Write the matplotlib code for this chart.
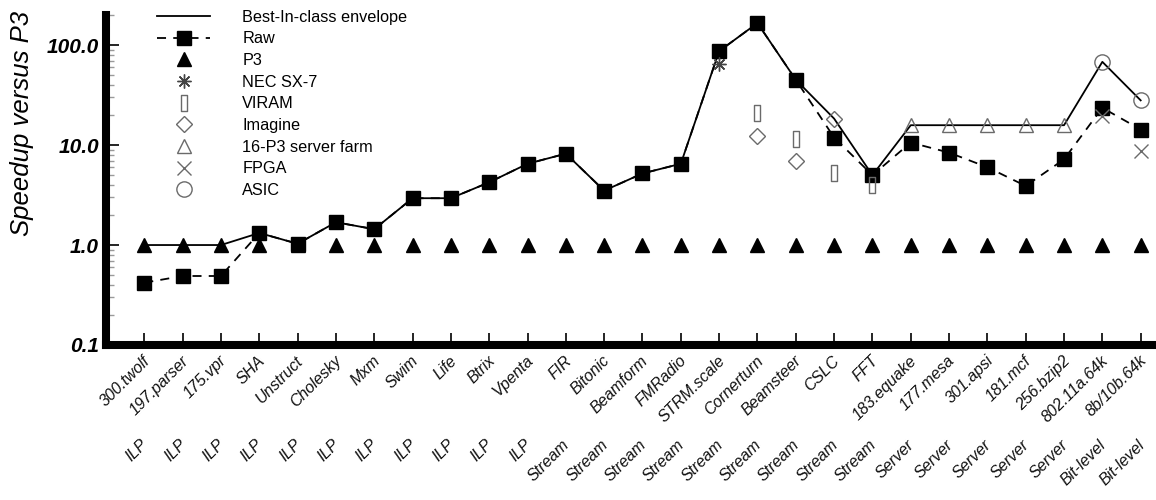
import numpy as np
import matplotlib
matplotlib.use("Agg")
import matplotlib.pyplot as plt
from matplotlib.path import Path
from matplotlib.ticker import LogLocator, NullFormatter, FixedLocator, FixedFormatter

plt.rcParams["font.family"] = ["Liberation Sans", "DejaVu Sans"]

names = ["300.twolf", "197.parser", "175.vpr", "SHA", "Unstruct", "Cholesky", "Mxm",
         "Swim", "Life", "Btrix", "Vpenta", "FIR", "Bitonic", "Beamform", "FMRadio",
         "STRM.scale", "Cornerturn", "Beamsteer", "CSLC", "FFT", "183.equake",
         "177.mesa", "301.apsi", "181.mcf", "256.bzip2", "802.11a.64k", "8b/10b.64k"]
groups = ["ILP"] * 11 + ["Stream"] * 9 + ["Server"] * 5 + ["Bit-level"] * 2

raw = [0.42, 0.49, 0.49, 1.32, 1.03, 1.69, 1.44, 2.94, 2.94, 4.24, 6.5, 8.2, 3.5,
       5.2, 6.5, 87, 166, 45, 11.9, 5.0, 10.6, 8.4, 6.0, 3.9, 7.2, 23.6, 14.3]
p3 = [1.0, 1.0, 1.0, 1.0, 1.0, 1.0, 1.0, 1.0, 1.0, 1.0, 1.0, 1.0, 1.0, 1.0,
      1.0, 1.0, 1.0, 1.0, 1.0, 1.0, 1.0, 1.0, 1.0, 1.0, 1.0, 1.0, 1.0]

nec_names = ["STRM.scale"]
nec_vals = [65]
viram_names = ["Cornerturn", "Beamsteer", "CSLC", "FFT"]
viram_vals = [21, 11.6, 5.3, 4.0]
imagine_names = ["Cornerturn", "Beamsteer", "CSLC"]
imagine_vals = [12.4, 7.0, 18.4]
farm_names = ["183.equake", "177.mesa", "301.apsi", "181.mcf", "256.bzip2"]
farm_vals = [15.8, 15.8, 15.8, 15.8, 15.8]
fpga_names = ["802.11a.64k", "8b/10b.64k"]
fpga_vals = [19.6, 8.8]
asic_names = ["802.11a.64k", "8b/10b.64k"]
asic_vals = [68, 28]

x = np.arange(len(names))


def pos(lst):
    return [names.index(n) for n in lst]


# best-in-class envelope = max over every machine for each benchmark
env = np.maximum(np.array(raw), np.array(p3))
for nm, vals in [(nec_names, nec_vals), (viram_names, viram_vals),
                 (imagine_names, imagine_vals), (farm_names, farm_vals),
                 (fpga_names, fpga_vals), (asic_names, asic_vals)]:
    for i, v in zip(pos(nm), vals):
        env[i] = max(env[i], v)

gray = "#6a6a6a"
rect = Path([(-0.38, -1), (0.38, -1), (0.38, 1), (-0.38, 1), (-0.38, -1)],
            [Path.MOVETO, Path.LINETO, Path.LINETO, Path.LINETO, Path.CLOSEPOLY])

fig = plt.figure(figsize=(11.56, 5.0), dpi=100)
ax = fig.add_axes([0.0917, 0.31, 0.9083, 0.66])

ax.plot(x, env, color="black", lw=1.3, label="Best-In-class envelope", zorder=3)
ax.plot(x, raw, color="black", lw=1.3, ls=(0, (5, 4)), marker="s", ms=10.5,
        label="Raw", zorder=4)
ax.plot(x, p3, ls="none", marker="^", ms=9.5, color="black", label="P3", zorder=4)
ax.plot(pos(nec_names), nec_vals, ls="none", marker=(8, 2, 0), ms=10,
        color="#444444", mew=1.0, label="NEC SX-7", zorder=5)
ax.plot(pos(viram_names), viram_vals, ls="none", marker=rect, ms=11,
        mfc="none", mec=gray, mew=1.0, label="VIRAM", zorder=5)
ax.plot(pos(imagine_names), imagine_vals, ls="none", marker="D", ms=8,
        mfc="none", mec=gray, mew=1.0, label="Imagine", zorder=5)
ax.plot(pos(farm_names), farm_vals, ls="none", marker="^", ms=10,
        mfc="none", mec=gray, mew=1.0, label="16-P3 server farm", zorder=5)
ax.plot(pos(fpga_names), fpga_vals, ls="none", marker="x", ms=10,
        color=gray, mew=1.0, label="FPGA", zorder=5)
ax.plot(pos(asic_names), asic_vals, ls="none", marker="o", ms=11,
        mfc="none", mec=gray, mew=1.0, label="ASIC", zorder=5)

ax.set_yscale("log")
ax.set_ylim(0.1, 200)
ax.set_xlim(-1, 26.4)

ax.yaxis.set_major_locator(FixedLocator([0.1, 1, 10, 100]))
ax.yaxis.set_major_formatter(FixedFormatter(["0.1", "1.0", "10.0", "100.0"]))
ax.yaxis.set_minor_locator(LogLocator(base=10, subs=np.arange(2, 10)))
ax.yaxis.set_minor_formatter(NullFormatter())
ax.tick_params(axis="y", which="major", direction="in", length=9, width=1.2,
               pad=5, labelsize=15)
ax.tick_params(axis="y", which="minor", direction="in", length=6, width=1.0,
               color="#9a9a9a")
for lab in ax.get_yticklabels():
    lab.set_fontstyle("italic")
    lab.set_fontweight("bold")

ax.set_xticks(x)
ax.set_xticklabels([])
ax.tick_params(axis="x", which="major", direction="in", length=9, width=1.2)

for s in ["top", "right"]:
    ax.spines[s].set_visible(False)
for s in ["left", "bottom"]:
    ax.spines[s].set_linewidth(5.8)

fig.text(22 / 1156, 1 - 123 / 500, "Speedup versus P3", rotation=90, ha="center",
         va="center", fontsize=18.5, fontstyle="italic")

for i in x:
    ax.annotate(names[i], xy=(i, 0), xycoords=("data", "axes fraction"),
                xytext=(-2, -8), textcoords="offset pixels", rotation=45,
                rotation_mode="anchor", ha="right", va="top", fontsize=11.5,
                fontstyle="italic", color="#111111")
    ax.annotate(groups[i], xy=(i, 0), xycoords=("data", "axes fraction"),
                xytext=(-4, -92), textcoords="offset pixels", rotation=45,
                rotation_mode="anchor", ha="right", va="top", fontsize=11.5,
                fontstyle="italic", color="#111111")

ax.legend(loc="upper left", bbox_to_anchor=(0.127, 1.002), bbox_transform=fig.transFigure,
          frameon=False, fontsize=11.7, handlelength=3.26, handletextpad=1.97,
          labelspacing=0.41, borderpad=0.15, numpoints=1)

fig.savefig("out.png", dpi=100)
